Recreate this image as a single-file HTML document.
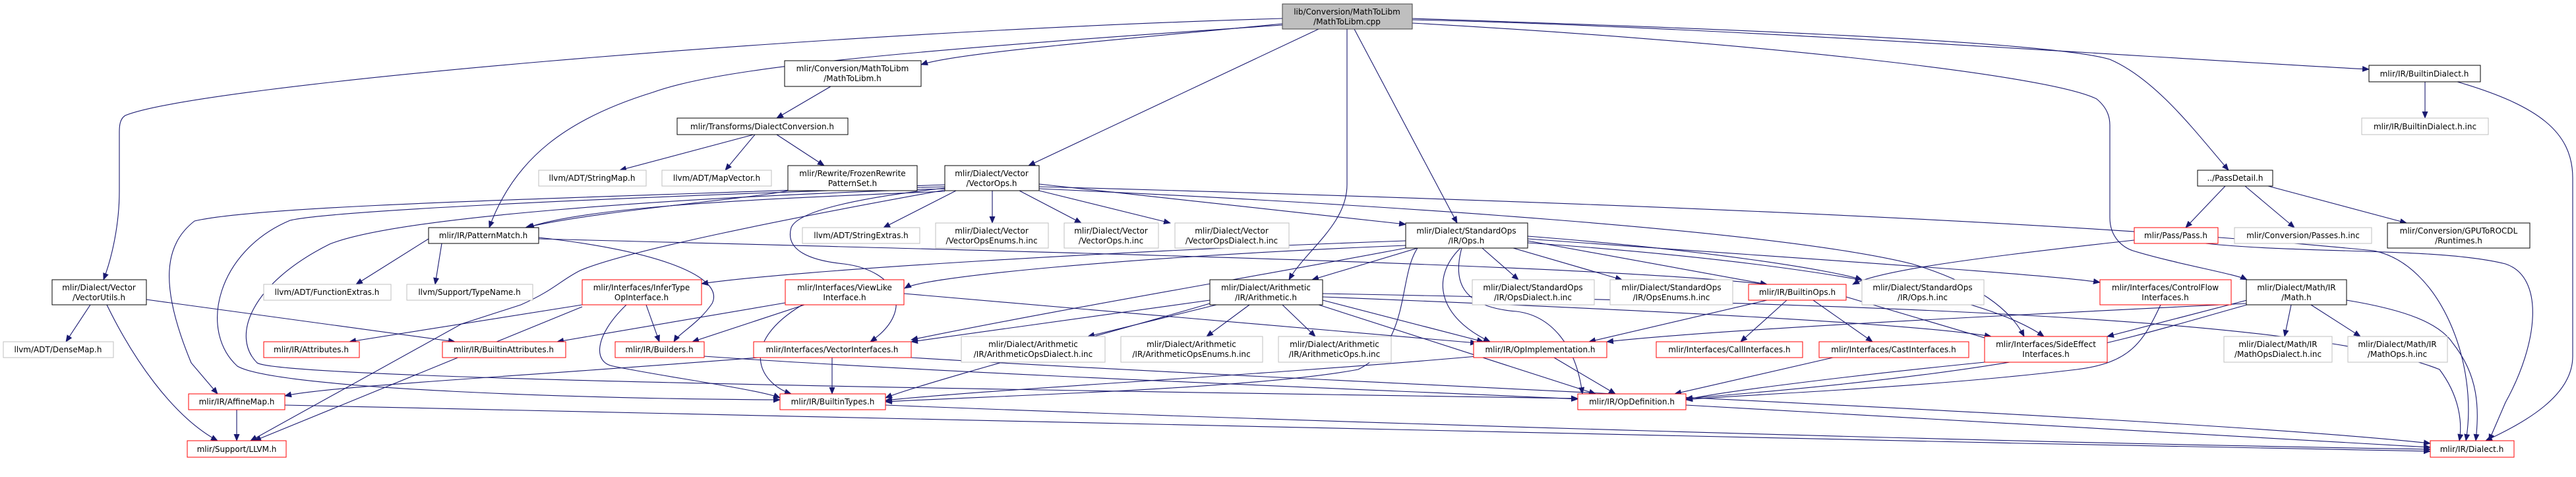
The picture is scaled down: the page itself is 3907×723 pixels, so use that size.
<!DOCTYPE html>
<html><head><meta charset="utf-8"><style>
html,body{margin:0;padding:0;background:#fff;}
svg{display:block;}
text{font-family:"DejaVu Sans","Liberation Sans",sans-serif;font-size:12px;fill:#000;text-anchor:middle;}
.e{fill:none;stroke:#191970;stroke-width:1.1;marker-end:url(#ah);}
.nb{fill:#fff;stroke:#000;stroke-width:1;}
.ng{fill:#fff;stroke:#bfbfbf;stroke-width:1;}
.nr{fill:#fff;stroke:#ff0000;stroke-width:1;}
</style></head><body>
<svg width="3907" height="723" viewBox="0 0 3907 723" xmlns="http://www.w3.org/2000/svg">
<defs><marker id="ah" markerUnits="userSpaceOnUse" markerWidth="11" markerHeight="9" refX="10" refY="4.5" orient="auto"><path d="M0,0 L11,4.5 L0,9 Z" fill="#191970"/></marker></defs>
<g>
<path class="e" d="M1945,28 C1200,50 300,130 190,175 C182,180 181,190 181,200 L181,290 C181,340 170,390 157,424"/>
<path class="e" d="M1945,36 C1700,60 1450,80 1397,98"/>
<path class="e" d="M1945,38 C1400,75 1100,100 990,140 C860,180 780,240 742,345"/>
<path class="e" d="M2000,44 L1560,251"/>
<path class="e" d="M2043,44 L2043,280 C2043,340 1980,380 1955,424"/>
<path class="e" d="M2054,44 L2210,338"/>
<path class="e" d="M2142,28 C2500,40 3100,60 3200,90 C3270,120 3330,200 3380,258"/>
<path class="e" d="M2142,30 C2600,40 3300,90 3593,105"/>
<path class="e" d="M2142,35 C2600,60 3100,110 3180,150 C3198,165 3200,180 3200,190 L3200,330 C3200,360 3220,375 3235,380 C3300,400 3390,415 3408,424"/>
<path class="e" d="M1260,131 L1178,179"/>
<path class="e" d="M1143,204 L940,258"/>
<path class="e" d="M1145,204 L1100,258"/>
<path class="e" d="M1178,204 L1250,251"/>
<path class="e" d="M1195,289 C1150,300 900,320 797,345"/>
<path class="e" d="M1433,290 C1200,300 900,310 800,345"/>
<path class="e" d="M1450,289 L1340,345"/>
<path class="e" d="M1505,289 L1505,338"/>
<path class="e" d="M1546,289 L1640,338"/>
<path class="e" d="M1576,289 L1775,338"/>
<path class="e" d="M1576,279 L2132,340"/>
<path class="e" d="M1433,280 C900,300 400,310 295,335 C250,370 240,430 290,550 L330,597"/>
<path class="e" d="M1433,283 C900,300 500,320 440,334 C330,380 300,500 360,555 C420,590 900,605 1183,606"/>
<path class="e" d="M1433,286 C1000,300 600,330 500,370 C380,430 350,510 390,550 C430,575 1500,590 2393,604"/>
<path class="e" d="M1433,285 C1300,300 1210,320 1200,345 C1190,380 1230,395 1280,400 C1360,410 1390,470 1320,518"/>
<path class="e" d="M1433,288 C1200,330 950,380 880,410 C850,425 840,440 790,462 L700,491 L380,668"/>
<path class="e" d="M1576,283 C2200,300 3100,330 3600,380 C3700,400 3760,550 3740,668"/>
<path class="e" d="M1576,286 C2100,310 2700,350 2900,400 C3000,430 3050,470 3070,510"/>
<path class="e" d="M670,369 L660,431"/>
<path class="e" d="M650,362 L540,431"/>
<path class="e" d="M817,360 C1000,380 1100,420 1080,460 C1060,490 1030,505 1022,518"/>
<path class="e" d="M817,362 C1500,380 2400,400 2680,431"/>
<path class="e" d="M137,462 L100,518"/>
<path class="e" d="M162,462 C200,540 260,630 330,668"/>
<path class="e" d="M222,454 L690,518"/>
<path class="e" d="M2132,365 C1700,380 1200,410 1064,430"/>
<path class="e" d="M2132,372 C1700,390 1400,420 1372,437"/>
<path class="e" d="M2150,376 L1990,424"/>
<path class="e" d="M2248,376 L2303,424"/>
<path class="e" d="M2295,376 L2460,424"/>
<path class="e" d="M2317,365 L2680,431"/>
<path class="e" d="M2317,358 C2600,380 2780,410 2824,424"/>
<path class="e" d="M2317,362 C2700,390 3100,415 3185,428"/>
<path class="e" d="M2215,376 C2170,420 2180,480 2260,518"/>
<path class="e" d="M2217,376 C2205,420 2210,465 2300,472 C2350,478 2390,520 2400,597"/>
<path class="e" d="M2317,368 C2700,395 3000,440 3100,510"/>
<path class="e" d="M2150,376 C2120,420 2140,520 2060,560 C1900,590 1500,600 1343,609"/>
<path class="e" d="M2132,376 C1900,420 1600,470 1382,515"/>
<path class="e" d="M1845,462 L1650,510"/>
<path class="e" d="M1895,462 L1830,510"/>
<path class="e" d="M1945,462 L1995,510"/>
<path class="e" d="M1835,455 L1382,518"/>
<path class="e" d="M2006,455 L2250,518"/>
<path class="e" d="M2006,450 C2500,470 2900,490 3020,510"/>
<path class="e" d="M2000,462 L2420,597"/>
<path class="e" d="M1835,460 C1700,500 1400,580 1343,603"/>
<path class="e" d="M2006,445 C2800,460 3500,480 3700,560 C3730,600 3735,640 3730,668"/>
<path class="e" d="M2680,455 L2410,518"/>
<path class="e" d="M2710,455 L2640,518"/>
<path class="e" d="M2750,455 L2840,518"/>
<path class="e" d="M2800,450 L3020,515"/>
<path class="e" d="M3277,462 C3250,520 3230,550 3150,560 C2900,590 2600,600 2557,606"/>
<path class="e" d="M3475,462 L3465,510"/>
<path class="e" d="M3505,462 L3580,510"/>
<path class="e" d="M3559,455 C3650,470 3700,490 3720,520 C3760,570 3760,620 3755,668"/>
<path class="e" d="M3408,455 L3196,510"/>
<path class="e" d="M3408,460 C3000,480 2600,500 2437,518"/>
<path class="e" d="M3408,462 C3200,520 3100,560 2557,604"/>
<path class="e" d="M3237,364 C3000,390 2850,410 2810,431"/>
<path class="e" d="M3345,369 C3500,385 3700,375 3800,400 C3860,420 3850,520 3800,610 L3775,668"/>
<path class="e" d="M3375,282 L3315,345"/>
<path class="e" d="M3405,282 L3480,345"/>
<path class="e" d="M3440,282 L3650,338"/>
<path class="e" d="M3678,124 L3678,179"/>
<path class="e" d="M3727,124 C3850,160 3902,200 3902,270 L3902,540 C3902,600 3830,640 3770,668"/>
<path class="e" d="M1068,540 C1500,570 2200,595 2393,605"/>
<path class="e" d="M1262,542 L1262,597"/>
<path class="e" d="M1382,542 C2000,580 3300,630 3686,672"/>
<path class="e" d="M1150,542 C800,570 500,585 432,600"/>
<path class="e" d="M883,462 L530,518"/>
<path class="e" d="M980,462 L1000,518"/>
<path class="e" d="M950,462 C900,510 900,550 930,555 C1000,570 1150,590 1183,603"/>
<path class="e" d="M883,465 L386,668"/>
<path class="e" d="M1191,459 L845,518"/>
<path class="e" d="M1220,462 L1050,518"/>
<path class="e" d="M1217,462 C1120,520 1150,580 1200,597"/>
<path class="e" d="M1371,445 L2240,520"/>
<path class="e" d="M2357,542 L2450,597"/>
<path class="e" d="M2240,540 C1900,570 1500,590 1343,607"/>
<path class="e" d="M2780,542 L2540,597"/>
<path class="e" d="M3010,549 C2800,570 2600,595 2557,606"/>
<path class="e" d="M359,621 L359,668"/>
<path class="e" d="M2557,614 L3686,678"/>
<path class="e" d="M1343,614 C2000,640 3000,670 3686,681"/>
<path class="e" d="M432,614 C1200,640 2500,660 3686,684"/>
</g>
<g>
<rect x="1945" y="6" width="197" height="38" fill="#bfbfbf" stroke="#404040"/><text x="2043" y="22">lib/Conversion/MathToLibm</text><text x="2043" y="37">/MathToLibm.cpp</text>
<rect class="nb" x="1190" y="92" width="207" height="39"/><text x="1293" y="108">mlir/Conversion/MathToLibm</text><text x="1293" y="123">/MathToLibm.h</text>
<rect class="nb" x="1027" y="179" width="259" height="25"/><text x="1156" y="196">mlir/Transforms/DialectConversion.h</text>
<rect class="ng" x="817" y="258" width="163" height="24"/><text x="898" y="274">llvm/ADT/StringMap.h</text>
<rect class="ng" x="1004" y="258" width="166" height="24"/><text x="1087" y="274">llvm/ADT/MapVector.h</text>
<rect class="nb" x="1195" y="251" width="196" height="38"/><text x="1293" y="267">mlir/Rewrite/FrozenRewrite</text><text x="1293" y="282">PatternSet.h</text>
<rect class="nb" x="1433" y="251" width="143" height="38"/><text x="1504" y="267">mlir/Dialect/Vector</text><text x="1504" y="282">/VectorOps.h</text>
<rect class="nb" x="650" y="345" width="167" height="24"/><text x="733" y="361">mlir/IR/PatternMatch.h</text>
<rect class="ng" x="1217" y="345" width="178" height="24"/><text x="1306" y="361">llvm/ADT/StringExtras.h</text>
<rect class="ng" x="1419" y="338" width="171" height="38"/><text x="1504" y="354">mlir/Dialect/Vector</text><text x="1504" y="369">/VectorOpsEnums.h.inc</text>
<rect class="ng" x="1614" y="338" width="143" height="38"/><text x="1685" y="354">mlir/Dialect/Vector</text><text x="1685" y="369">/VectorOps.h.inc</text>
<rect class="ng" x="1782" y="338" width="173" height="38"/><text x="1868" y="354">mlir/Dialect/Vector</text><text x="1868" y="369">/VectorOpsDialect.h.inc</text>
<rect class="nb" x="2132" y="338" width="185" height="38"/><text x="2224" y="354">mlir/Dialect/StandardOps</text><text x="2224" y="369">/IR/Ops.h</text>
<rect class="nb" x="3593" y="99" width="169" height="25"/><text x="3677" y="116">mlir/IR/BuiltinDialect.h</text>
<rect class="ng" x="3582" y="179" width="192" height="25"/><text x="3678" y="196">mlir/IR/BuiltinDialect.h.inc</text>
<rect class="nb" x="3333" y="258" width="114" height="24"/><text x="3390" y="274">../PassDetail.h</text>
<rect class="nr" x="3237" y="345" width="127" height="24"/><text x="3300" y="361">mlir/Pass/Pass.h</text>
<rect class="ng" x="3389" y="345" width="208" height="24"/><text x="3493" y="361">mlir/Conversion/Passes.h.inc</text>
<rect class="nb" x="3621" y="338" width="216" height="38"/><text x="3729" y="354">mlir/Conversion/GPUToROCDL</text><text x="3729" y="369">/Runtimes.h</text>
<rect class="nb" x="79" y="424" width="143" height="38"/><text x="150" y="440">mlir/Dialect/Vector</text><text x="150" y="455">/VectorUtils.h</text>
<rect class="ng" x="400" y="431" width="193" height="24"/><text x="496" y="447">llvm/ADT/FunctionExtras.h</text>
<rect class="ng" x="617" y="431" width="191" height="24"/><text x="712" y="447">llvm/Support/TypeName.h</text>
<rect class="nr" x="883" y="424" width="181" height="38"/><text x="973" y="440">mlir/Interfaces/InferType</text><text x="973" y="455">OpInterface.h</text>
<rect class="nr" x="1191" y="424" width="180" height="38"/><text x="1281" y="440">mlir/Interfaces/ViewLike</text><text x="1281" y="455">Interface.h</text>
<rect class="nb" x="1835" y="424" width="171" height="38"/><text x="1920" y="440">mlir/Dialect/Arithmetic</text><text x="1920" y="455">/IR/Arithmetic.h</text>
<rect class="ng" x="2233" y="424" width="185" height="38"/><text x="2325" y="440">mlir/Dialect/StandardOps</text><text x="2325" y="455">/IR/OpsDialect.h.inc</text>
<rect class="ng" x="2442" y="424" width="186" height="38"/><text x="2535" y="440">mlir/Dialect/StandardOps</text><text x="2535" y="455">/IR/OpsEnums.h.inc</text>
<rect class="nr" x="2652" y="431" width="148" height="24"/><text x="2726" y="447">mlir/IR/BuiltinOps.h</text>
<rect class="ng" x="2824" y="424" width="185" height="38"/><text x="2916" y="440">mlir/Dialect/StandardOps</text><text x="2916" y="455">/IR/Ops.h.inc</text>
<rect class="nr" x="3185" y="424" width="199" height="38"/><text x="3284" y="440">mlir/Interfaces/ControlFlow</text><text x="3284" y="455">Interfaces.h</text>
<rect class="nb" x="3407" y="424" width="152" height="38"/><text x="3483" y="440">mlir/Dialect/Math/IR</text><text x="3483" y="455">/Math.h</text>
<rect class="ng" x="5" y="518" width="167" height="24"/><text x="88" y="534">llvm/ADT/DenseMap.h</text>
<rect class="nr" x="400" y="518" width="145" height="24"/><text x="472" y="534">mlir/IR/Attributes.h</text>
<rect class="nr" x="671" y="518" width="187" height="24"/><text x="764" y="534">mlir/IR/BuiltinAttributes.h</text>
<rect class="nr" x="933" y="518" width="135" height="24"/><text x="1000" y="534">mlir/IR/Builders.h</text>
<rect class="nr" x="1143" y="518" width="239" height="24"/><text x="1262" y="534">mlir/Interfaces/VectorInterfaces.h</text>
<rect class="ng" x="1458" y="510" width="218" height="39"/><text x="1567" y="526">mlir/Dialect/Arithmetic</text><text x="1567" y="541">/IR/ArithmeticOpsDialect.h.inc</text>
<rect class="ng" x="1700" y="510" width="215" height="39"/><text x="1807" y="526">mlir/Dialect/Arithmetic</text><text x="1807" y="541">/IR/ArithmeticOpsEnums.h.inc</text>
<rect class="ng" x="1939" y="510" width="171" height="39"/><text x="2024" y="526">mlir/Dialect/Arithmetic</text><text x="2024" y="541">/IR/ArithmeticOps.h.inc</text>
<rect class="nr" x="2235" y="518" width="202" height="24"/><text x="2336" y="534">mlir/IR/OpImplementation.h</text>
<rect class="nr" x="2512" y="518" width="222" height="24"/><text x="2623" y="534">mlir/Interfaces/CallInterfaces.h</text>
<rect class="nr" x="2759" y="518" width="227" height="24"/><text x="2872" y="534">mlir/Interfaces/CastInterfaces.h</text>
<rect class="nr" x="3010" y="510" width="186" height="39"/><text x="3103" y="526">mlir/Interfaces/SideEffect</text><text x="3103" y="541">Interfaces.h</text>
<rect class="ng" x="3373" y="510" width="164" height="39"/><text x="3455" y="526">mlir/Dialect/Math/IR</text><text x="3455" y="541">/MathOpsDialect.h.inc</text>
<rect class="ng" x="3561" y="510" width="151" height="39"/><text x="3636" y="526">mlir/Dialect/Math/IR</text><text x="3636" y="541">/MathOps.h.inc</text>
<rect class="nr" x="286" y="597" width="146" height="24"/><text x="359" y="613">mlir/IR/AffineMap.h</text>
<rect class="nr" x="1183" y="597" width="160" height="24"/><text x="1263" y="613">mlir/IR/BuiltinTypes.h</text>
<rect class="nr" x="2393" y="597" width="164" height="24"/><text x="2475" y="613">mlir/IR/OpDefinition.h</text>
<rect class="nr" x="284" y="668" width="150" height="25"/><text x="359" y="685">mlir/Support/LLVM.h</text>
<rect class="nr" x="3686" y="668" width="127" height="25"/><text x="3749" y="685">mlir/IR/Dialect.h</text>
</g>
</svg>
</body></html>
